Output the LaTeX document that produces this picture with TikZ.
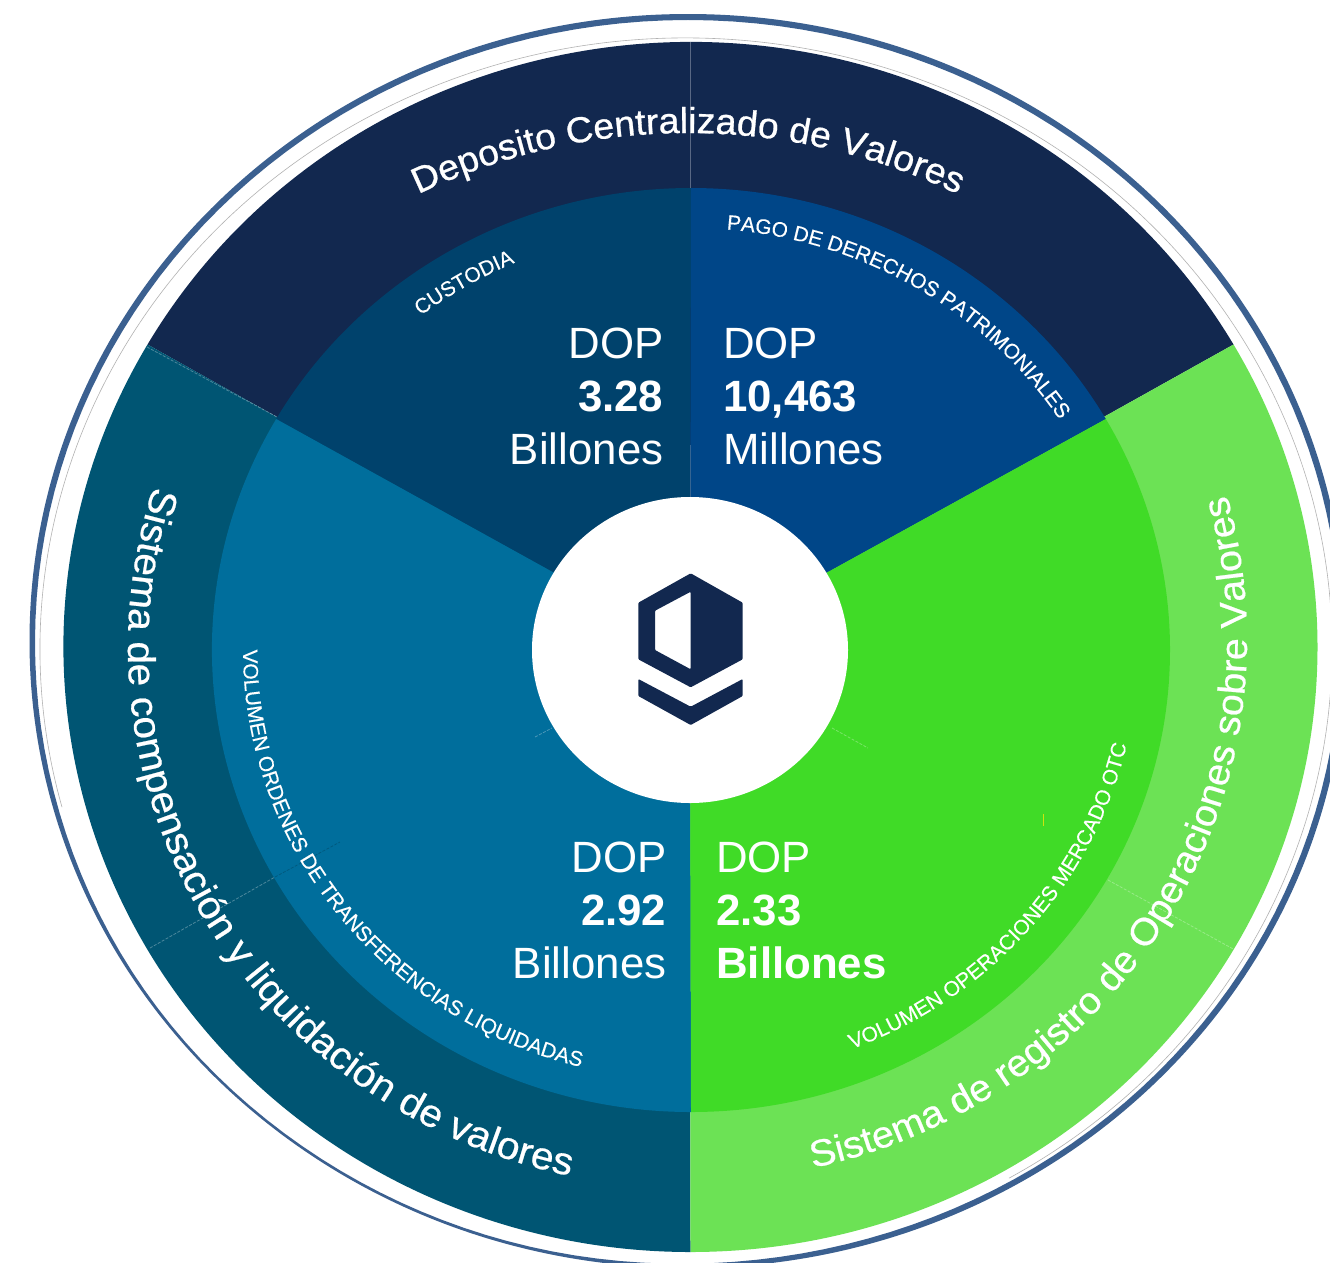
\documentclass[tikz,border=0pt]{standalone}
\usepackage{fontspec}
\setmainfont{Liberation Sans}
\newfontfamily\titlefam[FakeBold=0.6,FakeStretch=1.055]{Liberation Sans}
\newfontfamily\topfam[FakeBold=0.8,FakeStretch=1.04]{Liberation Sans}
\newfontfamily\labelfam[FakeBold=0.3]{Liberation Sans}
\usetikzlibrary{decorations.text}
\definecolor{navyO}{HTML}{12284F}
\definecolor{custI}{HTML}{00426C}
\definecolor{pagoI}{HTML}{004688}
\definecolor{tealO}{HTML}{005573}
\definecolor{tealI}{HTML}{006E9C}
\definecolor{greenO}{HTML}{6CE255}
\definecolor{greenI}{HTML}{40DB27}
\definecolor{ringB}{HTML}{3B6090}
\newcommand\topf{\topfam\fontsize{36}{38}\selectfont}
\newcommand\leftf{\titlefam\fontsize{38.5}{40}\selectfont}
\newcommand\rightf{\titlefam\fontsize{37.5}{40}\selectfont}
\newcommand\smallf{\labelfam\fontsize{21}{21}\selectfont}
\newcommand\valf{\fontsize{43.8}{53}\selectfont}
\tikzset{
  x=1pt,y=1pt,
  declare function={ringw(\t)=6-3.5/(1+((\t-235)/35)*((\t-235)/35)*((\t-235)/35)*((\t-235)/35));},
  toparc/.style={decorate,decoration={text along path,text color=white,text align={center},text={|\topf|#1}}},
  leftarc/.style={decorate,decoration={text along path,text color=white,text align={center},text={|\leftf|#1}}},
  rightarc/.style={decorate,decoration={text along path,text color=white,text align={center},text={|\rightf|#1}}},
  smallarc/.style={decorate,decoration={text along path,text color=white,text align={center},text={|\smallf|#1}}},
  valleft/.style={text=white,inner sep=0pt,align=left,anchor=north west,font=\valf},
  valright/.style={text=white,inner sep=0pt,align=right,anchor=north east,font=\valf},
  faint/.style={white,opacity=.3,line width=.8pt,dash pattern=on 3pt off 1.5pt},
}
\begin{document}
\begin{tikzpicture}
\useasboundingbox (0,-1262) rectangle (1330,0);
\clip (0,-1262) rectangle (1330,0);
\fill[white] (0,-1262) rectangle (1330,0);
% blue ring: its width narrows towards the lower left
\fill[ringB,even odd rule] (688,-641) ellipse[x radius=658.5,y radius=627]
  plot[domain=0:358,samples=180] ({688+(658.5-ringw(\x))*cos(\x)},{-641+(627-ringw(\x))*sin(\x)}) -- cycle;
% thin grey ring (open in the lower left)
\draw[gray!60,line width=.6pt] (686,-649) ++(-60:646 and 611) arc[start angle=-60,end angle=195,x radius=646,y radius=611];
% outer sectors
\coordinate (c) at (690,-648);
\fill[navyO] (690.5,-647) ++(150:627 and 605) arc[start angle=150,end angle=30,x radius=627,y radius=605] -- (c) -- cycle;
\fill[tealO] (690.5,-647) ++(150:627 and 605) arc[start angle=150,end angle=270,x radius=627,y radius=605] -- (c) -- cycle;
\fill[greenO] (690.5,-647) ++(270:627 and 605) arc[start angle=270,end angle=390,x radius=627,y radius=605] -- (c) -- cycle;
% inner sectors
\fill[custI] (691,-650) ++(150:479 and 462) arc[start angle=150,end angle=90,x radius=479,y radius=462] -- (c) -- cycle;
\fill[pagoI] (691,-650) ++(90:479 and 462) arc[start angle=90,end angle=30,x radius=479,y radius=462] -- (c) -- cycle;
\fill[tealI] (691,-650) ++(150:479 and 462) arc[start angle=150,end angle=270,x radius=479,y radius=462] -- (c) -- cycle;
\fill[greenI] (691,-650) ++(270:479 and 462) arc[start angle=270,end angle=390,x radius=479,y radius=462] -- (c) -- cycle;
% faint lines
\draw[white,opacity=.3,line width=1pt] (690,-42) -- (690,-188);
\draw[white,opacity=.2,line width=.8pt] (690,-445) -- (690,-497);
\draw[faint] (150,-948) -- (275,-877);
\draw[black,opacity=.18,line width=.8pt,dash pattern=on 3pt off 1.5pt] (275,-877) -- (340,-842);
\draw[faint] (535,-737) -- (552,-728);
\draw[faint] (1108,-880) -- (1235,-950);
\draw[faint] (832,-728) -- (868,-748);
\draw[faint] (147,-347) -- (277,-417);
\draw[yellow!80!green,line width=.7pt] (1043,-814) -- (1043,-826);
% centre disc
\fill[white] (690,-650) ellipse[x radius=158,y radius=153];
% logo
\fill[navyO,even odd rule,rounded corners=1pt] (690.7,-573.3) -- (742.7,-602.7) -- (742.7,-659.3) -- (690.7,-687.3) -- (638.3,-659.3) -- (638.3,-602.7) -- cycle
  (690.7,-591.7) -- (655,-610.7) -- (655,-650) -- (690.7,-669.3) -- cycle;
\fill[navyO,rounded corners=1pt] (638.3,-679) -- (690.7,-706.7) -- (742.7,-679) -- (742.7,-696) -- (690.7,-725) -- (638.3,-696) -- cycle;
% big curved titles
\path[toparc={Deposito Centralizado de Valores}] (688,-758) ++(116:625) arc[start angle=116,end angle=64,radius=625];
\path[leftarc={Sistema de compensación y liquidación de valores}] (688,-648) ++(162:560 and 540) arc[start angle=162,end angle=258.4,x radius=560,y radius=540];
\path[rightarc={Sistema de registro de Operaciones sobre Valores}] (697,-640) ++(-77.5:550 and 540) arc[start angle=-77.5,end angle=15.2,x radius=550,y radius=540];
% small curved labels
\path[smallarc={CUSTODIA}] (690,-650) ++(128:441 and 422) arc[start angle=128,end angle=113,x radius=441,y radius=422];
\path[smallarc={PAGO DE DERECHOS PATRIMONIALES}] (690,-650) ++(85.3:441 and 422) arc[start angle=85.3,end angle=33,x radius=441,y radius=422];
\path[smallarc={VOLUMEN ORDENES DE TRANSFERENCIAS LIQUIDADAS}] (690,-650) ++(180:447 and 430) arc[start angle=180,end angle=255.8,x radius=447,y radius=430];
\path[smallarc={VOLUMEN OPERACIONES MERCADO OTC}] (690,-650) ++(-68.8:448 and 428) arc[start angle=-68.8,end angle=-12.8,x radius=448,y radius=428];
% values
\node[valright] (v1) at (663.5,-328) {DOP\\\textbf{3.28}\\Billones};
\node[valleft] (v2) at (723,-328) {DOP\\\textbf{10,463}\\Millones};
\node[valright] (v3) at (666.5,-842) {DOP\\\textbf{2.92}\\Billones};
\node[valleft] (v4) at (716,-842) {DOP\\\textbf{2.33}\\\textbf{Billones}};
\end{tikzpicture}
\end{document}
